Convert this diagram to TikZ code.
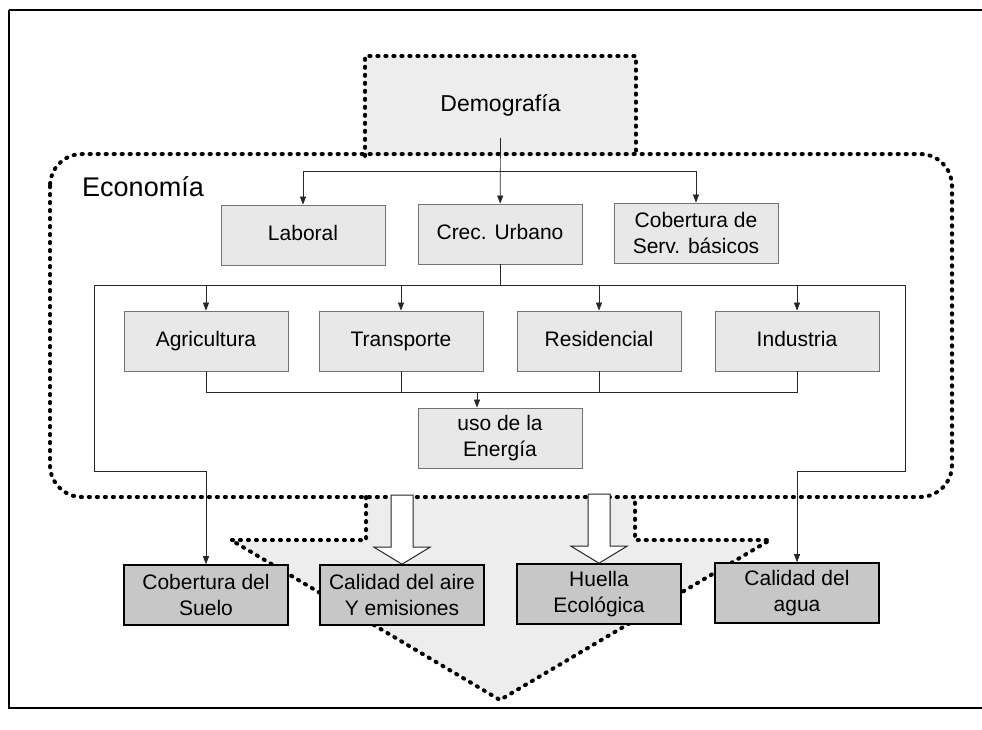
\documentclass[tikz,border=0pt]{standalone}
\usepackage{fontspec}
\setmainfont{Liberation Sans}
\usetikzlibrary{arrows.meta}

\tikzset{
    box/.style={draw=black!55, line width=0.8pt, fill=black!9, minimum width=164pt, minimum height=60pt,
        inner sep=2pt, text height=15pt, text depth=5pt, font=\fontsize{21}{26}\selectfont},
    two/.style={align=center, text height=, text depth=},
    outbox/.style={box, draw=black, line width=1.6pt, fill=black!22},
    dots/.style={line width=4pt, line cap=round, dash pattern=on 1.2pt off 6.8pt},
    link/.style={line width=0.7pt, draw=black!85},
    tip/.style={link, -{Triangle[length=8pt,width=6pt]}},
}

\begin{document}
\begin{tikzpicture}[x=1pt,y=-1pt]
    \useasboundingbox (0,0) rectangle (982,729);

    % frame
    \draw [line width=1.2pt] (9,10) -- (9,708) -- (982,708);
    \draw [line width=2pt] (9,10) -- (982,10);

    % big arrow below the economy
    \path [dots, draw, fill=black!7] (366,497) -- (366,540) -- (231,540) -- (500,700)
        -- (770,540) -- (635,540) -- (635,497);

    \node (demo) [box, draw=none, fill=black!7, minimum width=270pt, minimum height=99pt,
        font=\fontsize{23}{26}\selectfont] at (500.5,106) {Demografía};
    \draw [dots] (demo.south west) |- (demo.north east) -- (demo.south east);

    % economy
    \draw [dots, rounded corners=32pt] (50,154) rectangle (952,497);
    \node (econ) [font=\fontsize{27}{30}\selectfont] at (143,187) {Economía};

    \node (lab)    [box] at (303,235) {Laboral};
    \node (urb)    [box] at (500,234) {Crec. Urbano};
    \node (serv)   [box, two] at (696,233) {Cobertura de\\Serv. básicos};
    \node (agr)    [box] at (206,341) {Agricultura};
    \node (tra)    [box] at (401,341) {Transporte};
    \node (res)    [box] at (599,341) {Residencial};
    \node (ind)    [box] at (797,341) {Industria};
    \node (ene)    [box, two] at (500,438) {uso de la\\Energía};

    \node (suelo)  [outbox, two] at (206,595) {Cobertura del\\Suelo};
    \node (aire)   [outbox, two] at (402,595) {Calidad del aire\\Y emisiones};
    \node (huella) [outbox, two] at (599,594) {Huella\\Ecológica};
    \node (agua)   [outbox, two] at (797,593) {Calidad del\\agua};

    \coordinate (split) at (500,171);
    \coordinate (bus)   at (500,285);
    \coordinate (join)  at (477,392);
    \coordinate (lft)   at (94,471);
    \coordinate (rgt)   at (905,471);

    \draw [tip] ([yshift=18pt]demo.south) -- (urb);
    \draw [tip] (split) -| (lab.north);
    \draw [tip] (split) -| (serv.north);
    \draw [link] (urb) -- (bus);

    \foreach \s in {agr,tra,res,ind}{%
        \draw [tip]  (bus) -| (\s.north);
        \draw [link] (\s.south) |- (join);
    }
    \draw [tip] (join) -- (join |- ene.north);

    \draw [tip] (bus) -| (lft) -| (suelo.north);
    \draw [tip] (bus) -| (rgt) -| (agua.north);

    % hollow arrows
    \foreach \t in {aire,huella}{%
        \draw [link, line width=1pt, fill=white] (\t.north) -- +(-28,-17) -- +(-11,-17) -- +(-11,-69)
            -- +(11,-69) -- +(11,-17) -- +(28,-17) -- cycle;
    }
\end{tikzpicture}
\end{document}
